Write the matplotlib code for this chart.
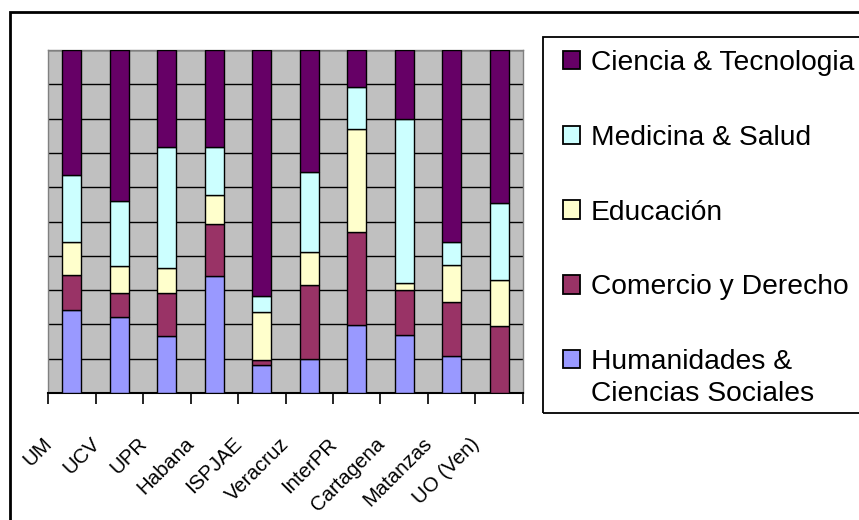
import matplotlib
matplotlib.use("Agg")
from matplotlib import pyplot as plt
from matplotlib.patches import Rectangle
import numpy as np

plt.rcParams['font.family'] = ['Liberation Sans', 'DejaVu Sans']

# universities (x categories)
universities = ['UM', 'UCV', 'UPR', 'Habana', 'ISPJAE', 'Veracruz',
                'InterPR', 'Cartagena', 'Matanzas', 'UO (Ven)']

# share of each area (%)
humanidades = [24.1, 22.3, 16.5, 34.0, 8.3, 10.0, 19.9, 17.0, 10.7, 0.0]
comercio    = [10.4, 7.0, 12.8, 15.2, 1.4, 21.6, 26.9, 12.9, 15.7, 19.4]
educacion   = [9.4, 7.6, 7.0, 8.6, 13.8, 9.5, 30.2, 2.3, 11.0, 13.4]
medicina    = [19.7, 19.1, 35.5, 14.0, 4.7, 23.2, 12.3, 47.7, 6.5, 22.5]
ciencia     = [36.4, 44.0, 28.2, 28.2, 71.8, 35.7, 10.7, 20.1, 56.1, 44.7]

series_names = ['Humanidades &', 'Comercio y Derecho',
                'Educación', 'Medicina & Salud', 'Ciencia & Tecnologia']
series_data = [humanidades, comercio, educacion, medicina, ciencia]
series_colors = ['#9999FF', '#993366', '#FFFFCC', '#CCFFFF', '#660066']

W, H = 859, 520
fig = plt.figure(figsize=(W/100, H/100), dpi=100)
ax = fig.add_axes([48/W, 1-393/H, (523-48)/W, (393-50)/H])
ax.set_facecolor('#C0C0C0')

x = np.arange(len(universities))
bottom = np.zeros(len(universities))
bars = []
for name, vals, col in zip(series_names, series_data, series_colors):
    b = ax.bar(x, vals, 0.4, bottom=bottom, color=col, edgecolor='black',
               linewidth=1.0, label=name, zorder=3)
    bars.append(b)
    bottom = bottom + np.array(vals)

ax.set_xlim(-0.5, len(universities) - 0.5)
ax.set_ylim(0, 100)

# horizontal gridlines every 10%
ax.set_yticks(np.arange(0, 101, 10))
ax.yaxis.grid(True, color='black', linewidth=1.0, zorder=0)
ax.set_axisbelow(True)
ax.tick_params(axis='y', left=False, labelleft=False)

# ticks at the category boundaries
ax.set_xticks(np.arange(-0.5, len(universities), 1.0))
ax.set_xticklabels([])
ax.tick_params(axis='x', direction='out', length=8, width=1.2, color='black')

for s in ['top', 'left', 'right']:
    ax.spines[s].set_color('#808080')
    ax.spines[s].set_linewidth(1.0)
ax.spines['bottom'].set_color('black')
ax.spines['bottom'].set_linewidth(1.5)

# rotated category labels
for i, lab in enumerate(universities):
    ax.text(i - 0.62, -0.12, lab, transform=ax.get_xaxis_transform(),
            rotation=45, rotation_mode='anchor', ha='right', va='top',
            fontsize=14.7)

# legend (frame drawn separately so it runs off the right edge like the original)
handles = bars[::-1]
labels = series_names[::-1]
leg = fig.legend(handles, labels, loc='upper left',
                 bbox_to_anchor=(563/W, 1-50/H), fontsize=20.3,
                 frameon=False, handlelength=0.62, handleheight=0.62,
                 handletextpad=0.36, labelspacing=1.73, borderpad=0,
                 borderaxespad=0)
for h in leg.legend_handles:
    h.set_edgecolor('black')
    h.set_linewidth(1.3)
second_line = fig.text(0, 0, 'Ciencias Sociales', fontsize=20.3,
                       va='top', ha='left')
fig.patches.append(Rectangle((543/W, 1-413/H), 0.5, (413-37)/H, fill=False,
                             edgecolor='black', linewidth=1.3,
                             transform=fig.transFigure))

# outer chart border
fig.patches.append(Rectangle((10/W, -0.2), 1.0, 1.2 - 12/H, fill=False,
                             edgecolor='black', linewidth=2,
                             transform=fig.transFigure))

# place the second line of the last legend label under its first line
fig.canvas.draw()
r = fig.canvas.get_renderer()
bb = leg.get_texts()[-1].get_window_extent(r)
second_line.set_position((bb.x0 / W, (bb.y0 - 6) / H))

fig.savefig('out.png', dpi=100)
